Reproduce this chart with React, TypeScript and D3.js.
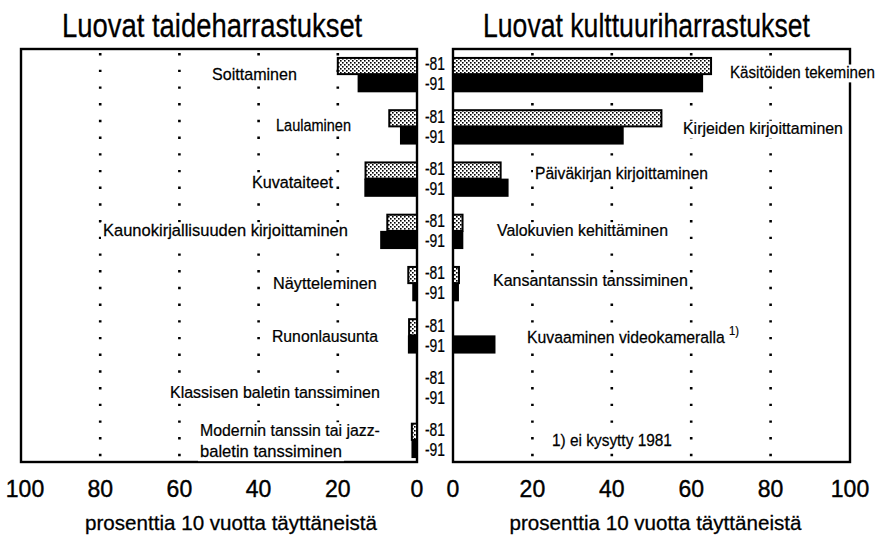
import React from 'react';
import * as d3 from 'd3';

const W = 884;
const H = 541;
const FONT = 'Liberation Sans, Arial, sans-serif';

// osuus 10 vuotta täyttäneistä (%), vuodet 1981 ja 1991
const years = ['-81', '-91'];
const xTicks = [0, 20, 40, 60, 80, 100];

const artCategories = [
  'Soittaminen',
  'Laulaminen',
  'Kuvataiteet',
  'Kaunokirjallisuuden kirjoittaminen',
  'Näytteleminen',
  'Runonlausunta',
  'Klassisen baletin tanssiminen',
  'Modernin tanssin tai jazz-\nbaletin tanssiminen',
];
const art1981 = [20, 7, 13, 7.5, 2.2, 2, 0, 1.3];
const art1991 = [15, 4.3, 13.3, 9.3, 1.2, 2.3, 0, 1.4];

const cultureCategories = [
  'Käsitöiden tekeminen',
  'Kirjeiden kirjoittaminen',
  'Päiväkirjan kirjoittaminen',
  'Valokuvien kehittäminen',
  'Kansantanssin tanssiminen',
  'Kuvaaminen videokameralla',
  '',
  '1) ei kysytty 1981',
];
const culture1981: (number | null)[] = [65, 52.5, 12, 2.4, 1.5, null, null, null];
const culture1991: (number | null)[] = [63, 43, 14, 2.6, 1.5, 10.7, null, null];

// where the category labels sit: left edge (px), text widths per line, baseline shift from group centre
const artLabelLayout = [
  { x: 212, w: [85], dy: 6 },
  { x: 276, w: [75], dy: 5 },
  { x: 252, w: [81], dy: 9 },
  { x: 103, w: [245], dy: 5 },
  { x: 273, w: [104], dy: 6 },
  { x: 272, w: [106], dy: 7 },
  { x: 170, w: [210], dy: 10 },
  { x: 200, w: [180, 142], dy: -4 },
];
const cultureLabelLayout = [
  { x: 730, w: [145], dy: 4 },
  { x: 683, w: [160], dy: 8 },
  { x: 535, w: [173], dy: 0 },
  { x: 497, w: [171], dy: 5 },
  { x: 493, w: [195], dy: 3 },
  { x: 527, w: [198], dy: 8 },
  { x: 0, w: [0], dy: 0 },
  { x: 552, w: [120], dy: 6 },
];

const top = 49;
const bottom = 462;

const groupScale = d3
  .scaleBand<number>()
  .domain(d3.range(artCategories.length))
  .range([48, 466]);

const yearScale = d3
  .scaleBand<string>()
  .domain(years)
  .range([0, groupScale.bandwidth()])
  .paddingOuter(0.52)
  .paddingInner(0);

const xLeft = d3.scaleLinear().domain([0, 100]).range([417, 21]);
const xRight = d3.scaleLinear().domain([0, 100]).range([453, 850]);

// the print uses a condensed face; squeeze Liberation Sans horizontally to the measured widths
let measureCtx: CanvasRenderingContext2D | null = null;
const textWidth = (text: string, size: number) => {
  if (!measureCtx) measureCtx = document.createElement('canvas').getContext('2d');
  if (!measureCtx) return text.length * size * 0.5;
  measureCtx.font = `${size}px "Liberation Sans", Arial, sans-serif`;
  return measureCtx.measureText(text).width || text.length * size * 0.5;
};

const Squeezed: React.FC<{
  x: number;
  y: number;
  w: number;
  size: number;
  text: string;
  anchor?: 'start' | 'middle';
  stroke?: number;
  central?: boolean;
}> = ({ x, y, w, size, text, anchor = 'start', stroke = 0.25, central = false }) => {
  const sx = Math.min(1.2, w / textWidth(text, size));
  return (
    <text
      transform={`translate(${x},${y}) scale(${sx.toFixed(4)},1)`}
      fontSize={size}
      textAnchor={anchor}
      dominantBaseline={central ? 'central' : undefined}
      fill="#000"
      stroke="#000"
      strokeWidth={stroke}
    >
      {text}
    </text>
  );
};

const Label: React.FC<{ x: number; y: number; w: number; text: string; size?: number }> = ({ x, y, w, text, size = 17 }) => (
  <g>
    <rect x={x - 2} y={y - size * 0.8} width={w + 4} height={size * 1.05} fill="#fff" />
    <Squeezed x={x} y={y} w={w} size={size} text={text} />
  </g>
);

interface PanelProps {
  x: d3.ScaleLinear<number, number>;
  categories: string[];
  v81: (number | null)[];
  v91: (number | null)[];
  layout: { x: number; w: number[]; dy: number }[];
  title: string;
  titleX: number;
  titleW: number;
}

const Panel: React.FC<PanelProps> = ({ x, categories, v81, v91, layout, title, titleX, titleW }) => {
  const x0 = x(0);
  const x100 = x(100);
  const fx = Math.min(x0, x100);
  const fw = Math.abs(x100 - x0);
  const bh = yearScale.bandwidth();

  return (
    <g>
      <Squeezed x={titleX} y={37} w={titleW} size={33} text={title} stroke={0.3} />

      {/* dotted grid */}
      {[20, 40, 60, 80].map((t) => (
        <line
          key={`g-${t}`}
          x1={x(t)}
          x2={x(t)}
          y1={top + 4}
          y2={bottom - 2}
          stroke="#000"
          strokeWidth={2.6}
          strokeDasharray="2.4 14.3"
        />
      ))}

      <rect x={fx} y={top} width={fw} height={bottom - top} fill="none" stroke="#000" strokeWidth={2.4} />

      {/* bars */}
      {categories.map((c, i) => {
        const g = groupScale(i) ?? 0;
        const bars = [
          { year: years[0], v: v81[i] },
          { year: years[1], v: v91[i] },
        ];
        return (
          <g key={`bars-${i}`}>
            {bars.map((b) => {
              if (b.v == null || b.v <= 0) return null;
              const y = g + (yearScale(b.year) ?? 0);
              const xa = Math.min(x(0), x(b.v));
              const w = Math.abs(x(b.v) - x(0));
              return b.year === '-81' ? (
                <rect key={b.year} x={xa} y={y + 1} width={w} height={bh - 1} fill="url(#stipple)" stroke="#000" strokeWidth={2} />
              ) : (
                <rect key={b.year} x={xa} y={y} width={w} height={bh + 1} fill="#000" />
              );
            })}
          </g>
        );
      })}

      {/* category labels */}
      {categories.map((c, i) => {
        if (!c) return null;
        const L = layout[i];
        const cy = (groupScale(i) ?? 0) + groupScale.bandwidth() / 2 + L.dy;
        const lines = c.split('\n');
        return (
          <g key={`lab-${i}`}>
            {lines.map((ln, j) => (
              <Label key={j} x={L.x} y={cy + j * 21} w={L.w[j]} text={ln} />
            ))}
          </g>
        );
      })}

      {/* tick labels */}
      {xTicks.map((t) => (
        <text
          key={`t-${t}`}
          x={x(t) + (t === 100 && x0 > x100 ? 4 : 0)}
          y={497}
          fontSize={23}
          textAnchor="middle"
          fill="#000"
          stroke="#000"
          strokeWidth={0.4}
        >
          {t}
        </text>
      ))}

      <Squeezed
        x={(x0 + x100) / 2 + (x0 > x100 ? 12 : 4)}
        y={530}
        w={292}
        size={21}
        anchor="middle"
        text="prosenttia 10 vuotta täyttäneistä"
        stroke={0.3}
      />
    </g>
  );
};

export default function App() {
  const bh = yearScale.bandwidth();
  return (
    <svg
      width={W}
      height={H}
      viewBox={`0 0 ${W} ${H}`}
      style={{ position: 'absolute', left: 0, top: 0, background: '#fff' }}
      fontFamily={FONT}
    >
      <defs>
        <pattern id="stipple" width={4} height={4} patternUnits="userSpaceOnUse">
          <rect width={4} height={4} fill="#fff" />
          <rect x={0} y={0} width={1.6} height={1.6} fill="#000" />
          <rect x={2} y={2} width={1.6} height={1.6} fill="#000" />
        </pattern>
      </defs>
      <rect width={W} height={H} fill="#fff" />

      <Panel
        x={xLeft}
        categories={artCategories}
        v81={art1981}
        v91={art1991}
        layout={artLabelLayout}
        title="Luovat  taideharrastukset"
        titleX={62}
        titleW={308}
      />
      <Panel
        x={xRight}
        categories={cultureCategories}
        v81={culture1981}
        v91={culture1991}
        layout={cultureLabelLayout}
        title="Luovat kulttuuriharrastukset"
        titleX={483}
        titleW={327}
      />

      {/* footnote marker on the video camera label */}
      <Squeezed x={729} y={(groupScale(5) ?? 0) + groupScale.bandwidth() / 2} w={10} size={12} text="1)" stroke={0.2} />

      {/* year labels between the panels */}
      {artCategories.map((_, i) =>
        years.map((yr, k) => (
          <Squeezed
            key={`yr-${i}-${yr}`}
            x={435}
            y={(groupScale(i) ?? 0) + (yearScale(yr) ?? 0) + bh / 2 + (k === 0 ? -2 : 1)}
            w={20}
            size={18}
            anchor="middle"
            central
            text={yr}
          />
        ))
      )}
    </svg>
  );
}
